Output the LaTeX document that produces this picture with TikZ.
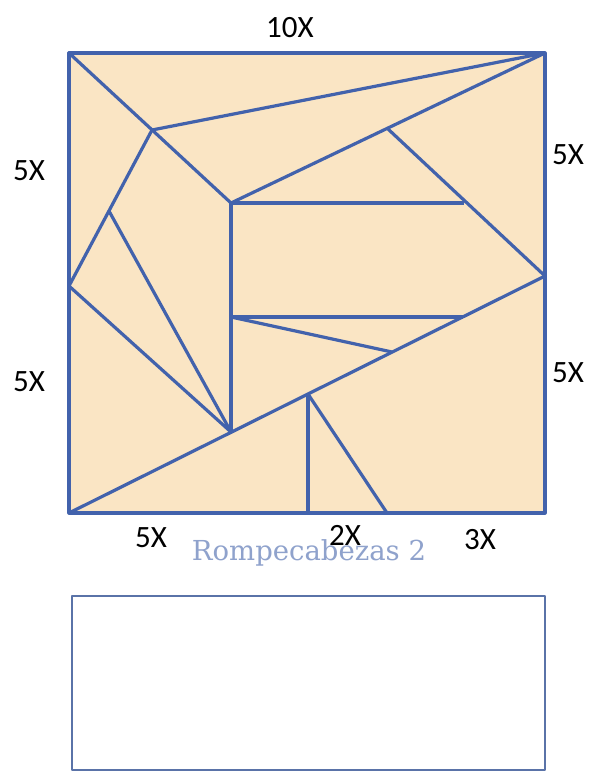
\documentclass[tikz,border=0pt]{standalone}
\usepackage{fontspec}
\setmainfont{Carlito}
\newfontfamily\captionfont{DejaVu Serif}
\usetikzlibrary{positioning}
\definecolor{piecefill}{HTML}{FAE5C4}
\definecolor{cutblue}{HTML}{4262AC}
\definecolor{boxblue}{HTML}{5A73A8}
\definecolor{captionblue}{HTML}{8FA2CC}

\begin{document}
\begin{tikzpicture}[x=1pt,y=-1pt,line join=round,
        cut/.style={draw=cutblue,line width=3.2pt},
        sizelabel/.style={font=\fontsize{31}{36}\selectfont,inner sep=0pt}]

  \useasboundingbox[fill=white] (0,0) rectangle (595,773);

  % corners and cut points
  \coordinate (tl) at (69,53);   \coordinate (tr) at (545,53);
  \coordinate (br) at (545,513); \coordinate (bl) at (69,513);
  \coordinate (l) at (69,286);   \coordinate (r) at (545,276);
  \coordinate (p) at (152,130);  \coordinate (c) at (231,203);
  \coordinate (q) at (388,129);  \coordinate (s) at (464,203);
  \coordinate (e) at (109,211);  \coordinate (d) at (231,432);
  \coordinate (f) at (231,317);  \coordinate (t) at (463,317);
  \coordinate (g) at (392,352);  \coordinate (h) at (308,394);
  \coordinate (h1) at (308,513); \coordinate (h2) at (387,513);

  \fill[piecefill] (tl) rectangle (br);

  \draw[cut] (tl) -- (c);
  \draw[cut] (p) -- (tr);
  \draw[cut] (c) -- (tr);
  \draw[cut] (q) -- (r);
  \draw[cut] (c) -- (s);
  \draw[cut] (c) -- (d);
  \draw[cut] (p) -- (l);
  \draw[cut] (e) -- (d);
  \draw[cut] (l) -- (d);
  \draw[cut] (bl) -- (r);
  \draw[cut] (f) -- (t);
  \draw[cut] (f) -- (g);
  \draw[cut] (h) -- (h1);
  \draw[cut] (h) -- (h2);
  \draw[cut] (tl) rectangle (br);

  % side lengths
  \node[sizelabel] (top)  at (290,28)  {10X};
  \node[sizelabel] (lup)  at (29,171)  {5X};
  \node[sizelabel] (llow) at (29,382)  {5X};
  \node[sizelabel] (rup)  at (568,155) {5X};
  \node[sizelabel] (rlow) at (568,373) {5X};

  \node[font=\captionfont\fontsize{27.5}{32}\selectfont,text=captionblue,inner sep=0pt]
        (caption) at (309,553) {Rompecabezas 2};

  \node[sizelabel] (bleft) at (151,538) {5X};
  \node[sizelabel] (bmid)  at (345,535) {2X};
  \node[sizelabel] (bright) at (480,540) {3X};

  \draw[draw=boxblue,line width=2.5pt] (72,596) rectangle (545,770);
\end{tikzpicture}
\end{document}
